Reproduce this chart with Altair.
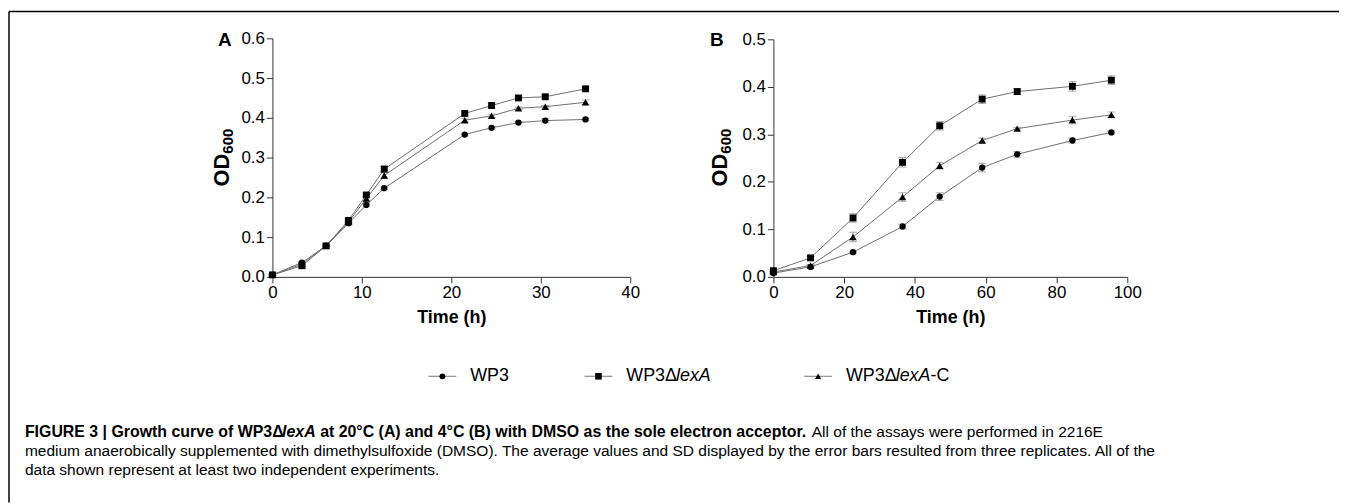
import altair as alt
import pandas as pd

FONT = "Liberation Sans"

strains = ["WP3", "WP3ΔlexA", "WP3ΔlexA-C"]

# Panel A (20 °C)
time_a = [0, 3.3, 6.0, 8.5, 10.5, 12.5, 21.5, 24.5, 27.5, 30.5, 35.0]
a_wp3 = [0.005, 0.036, 0.078, 0.135, 0.181, 0.223, 0.358, 0.375, 0.388, 0.393, 0.396]
a_lexA = [0.005, 0.028, 0.078, 0.142, 0.206, 0.271, 0.411, 0.431, 0.450, 0.453, 0.473]
a_lexAC = [0.005, 0.032, 0.078, 0.138, 0.197, 0.255, 0.394, 0.405, 0.424, 0.428, 0.439]
a_wp3_sd = [0.002, 0.003, 0.002, 0.003, 0.003, 0.003, 0.003, 0.003, 0.003, 0.005, 0.003]
a_lexA_sd = [0.002, 0.003, 0.002, 0.004, 0.005, 0.008, 0.004, 0.006, 0.004, 0.004, 0.004]
a_lexAC_sd = [0.002, 0.004, 0.002, 0.004, 0.006, 0.008, 0.005, 0.004, 0.003, 0.003, 0.006]

# Panel B (4 °C)
time_b = [0, 10.5, 22.5, 36.5, 47.0, 59.0, 68.9, 84.5, 95.5]
b_wp3 = [0.008, 0.021, 0.052, 0.106, 0.169, 0.230, 0.258, 0.287, 0.304]
b_lexA = [0.013, 0.040, 0.124, 0.241, 0.318, 0.374, 0.390, 0.401, 0.414]
b_lexAC = [0.010, 0.024, 0.084, 0.168, 0.234, 0.287, 0.312, 0.330, 0.341]
b_wp3_sd = [0.002, 0.002, 0.002, 0.005, 0.008, 0.009, 0.006, 0.005, 0.003]
b_lexA_sd = [0.002, 0.003, 0.009, 0.010, 0.009, 0.009, 0.006, 0.010, 0.009]
b_lexAC_sd = [0.002, 0.002, 0.010, 0.009, 0.007, 0.005, 0.002, 0.008, 0.006]

xticks_a = [0, 10, 20, 30, 40]
xticks_b = [0, 20, 40, 60, 80, 100]
yticks_a = [0.0, 0.1, 0.2, 0.3, 0.4, 0.5, 0.6]
yticks_b = [0.0, 0.1, 0.2, 0.3, 0.4, 0.5]

# ---------- text width helper (Helvetica/Arial metrics) ----------
REG = {' ': 278, '!': 278, '(': 333, ')': 333, ',': 278, '-': 333, '.': 278, ':': 278,
       '|': 260, '°': 400, 'Δ': 612}
for d in "0123456789":
    REG[d] = 556
REG.update(dict(A=667, B=667, C=722, D=722, E=667, F=611, G=778, H=722, I=278, J=500, K=667,
                L=556, M=833, N=722, O=778, P=667, Q=778, R=722, S=667, T=611, U=722, V=667,
                W=944, X=667, Y=667, Z=611, a=556, b=556, c=500, d=556, e=556, f=278, g=556,
                h=556, i=222, j=222, k=500, l=222, m=833, n=556, o=556, p=556, q=556, r=333,
                s=500, t=278, u=556, v=500, w=722, x=500, y=500, z=500))
BOLD = dict(REG)
BOLD.update({'|': 280})
BOLD.update(dict(A=722, B=722, L=611, a=556, b=611, c=556, d=611, f=333, g=611, h=611, i=278,
                 j=278, k=556, l=278, m=889, n=611, o=611, p=611, q=611, r=389, s=556, t=333,
                 u=611, v=556, w=778, x=556, y=556))


def tw(s, size, bold=False):
    tab = BOLD if bold else REG
    return sum(tab.get(c, 556) for c in s) * size / 1000.0


ONE = alt.Data(values=[{"k": 0}])


def label(text, x, y, size=16, weight="normal", style="normal", align="left",
          baseline="middle", angle=0, color="black"):
    return alt.Chart(ONE).mark_text(
        text=text, font=FONT, fontSize=size, fontWeight=weight, fontStyle=style,
        align=align, baseline=baseline, angle=angle, color=color
    ).encode(x=alt.value(x), y=alt.value(y))


def segments(parts, x0, y, size):
    """parts: list of (text, bold, italic, size_or_None) placed side by side."""
    layers = []
    x = x0
    for text, bold, italic, sz in parts:
        s = sz or size
        stripped = text.lstrip(" ")
        x += tw(text[: len(text) - len(stripped)], s, bold)
        layers.append(label(stripped, x, y, size=s, weight="bold" if bold else "normal",
                            style="italic" if italic else "normal"))
        x += tw(stripped, s, bold)
    return layers


# ---------- panels ----------
H = 496  # chart height (page minus margin)


def panel(times, series, sds, xdom, xticks, ydom, yticks, xrange, yrange):
    rows = []
    for s, vals, sd in zip(strains, series, sds):
        for t, v, e in zip(times, vals, sd):
            rows.append({"time": t, "od": v, "lo": v - e, "hi": v + e, "strain": s})
    df = pd.DataFrame(rows)
    base = alt.Chart(df)
    xaxis = alt.Axis(orient="bottom", offset=yrange[0] - H, values=xticks, format="d",
                     title="Time (h)", titleFont=FONT, titleFontSize=18, titleFontWeight="bold",
                     titleColor="black", titlePadding=8, labelFont=FONT, labelFontSize=17,
                     labelColor="black", labelPadding=2, tickSize=6, domainColor="#333",
                     tickColor="#333", grid=False, labelFlush=False)
    yaxis = alt.Axis(orient="left", offset=-xrange[0], values=yticks, format=".1f",
                     title=None, labelFont=FONT, labelFontSize=17, labelColor="black",
                     labelPadding=2, tickSize=6, domainColor="#333", tickColor="#333",
                     grid=False, labelFlush=False)
    xs = alt.Scale(domain=xdom, range=xrange, nice=False, zero=False)
    ys = alt.Scale(domain=ydom, range=yrange, nice=False, zero=False)

    def X():
        return alt.X("time:Q", scale=xs, axis=xaxis)

    def Y(f):
        return alt.Y(f + ":Q", scale=ys, axis=yaxis)

    shape = alt.Shape("strain:N", scale=alt.Scale(domain=strains,
                      range=["circle", "square", "triangle-up"]), legend=None)
    size = alt.Size("strain:N", scale=alt.Scale(domain=strains, range=[40, 56, 42]),
                    legend=None)
    line = base.mark_line(color="#6f6f6f", strokeWidth=1).encode(x=X(), y=Y("od"),
                                                                  detail="strain:N")
    rule = base.mark_rule(color="#888", strokeWidth=1).encode(x=X(), y=Y("lo"), y2="hi:Q")
    cap_lo = base.mark_tick(orient="horizontal", size=8, thickness=1, color="#888").encode(
        x=X(), y=Y("lo"))
    cap_hi = base.mark_tick(orient="horizontal", size=8, thickness=1, color="#888").encode(
        x=X(), y=Y("hi"))
    pts = base.mark_point(filled=True, opacity=1, color="black").encode(
        x=X(), y=Y("od"), shape=shape, size=size)
    return alt.layer(line, rule, cap_lo, cap_hi, pts)


# page coords minus 8px margin
pA = panel(time_a, [a_wp3, a_lexA, a_lexAC], [a_wp3_sd, a_lexA_sd, a_lexAC_sd],
           [0, 40], xticks_a, [0, 0.6], yticks_a, [266, 626], [269, 29])
pB = panel(time_b, [b_wp3, b_lexA, b_lexAC], [b_wp3_sd, b_lexA_sd, b_lexAC_sd],
           [0, 100], xticks_b, [0, 0.5], yticks_b, [770, 1126], [269, 30])

layers = [pA, pB]

# frame (left and top edges)
layers.append(alt.Chart(ONE).mark_rule(color="black", strokeWidth=1.5).encode(
    x=alt.value(1), y=alt.value(2), y2=alt.value(H)))
layers.append(alt.Chart(ONE).mark_rule(color="black", strokeWidth=1.5).encode(
    x=alt.value(1), x2=alt.value(1339), y=alt.value(2)))

# panel letters
layers.append(label("A", 218, 31, size=19, weight="bold", align="center"))
layers.append(label("B", 713, 31, size=19, weight="bold", align="center"))


# OD600 titles (rotated)
def od_title(xb, yc):
    w_od = tw("OD", 22, True)
    w_sub = tw("600", 15, True)
    total = w_od + w_sub
    y_start = yc + total / 2  # bottom end (text runs upward)
    return [
        label("OD", xb, y_start, size=22, weight="bold", align="left", baseline="alphabetic",
              angle=270),
        label("600", xb + 4, y_start - w_od, size=15, weight="bold", align="left",
              baseline="alphabetic", angle=270),
    ]


layers += od_title(222, 149)
layers += od_title(723, 149)

# legend
LEG_Y = 369
leg_items = [
    (437, "circle", 34, [("WP3", False, False, None)]),
    (594, "square", 44, [("WP3Δ", False, False, None), ("lexA", False, True, None)]),
    (815, "triangle-up", 38, [("WP3Δ", False, False, None),
                              ("lexA", False, True, None),
                              ("-C", False, False, None)]),
]
for cx, shp, sz, parts in leg_items:
    layers.append(alt.Chart(ONE).mark_rule(color="#777", strokeWidth=1).encode(
        x=alt.value(cx - 14), x2=alt.value(cx + 14), y=alt.value(LEG_Y)))
    layers.append(alt.Chart(ONE).mark_point(shape=shp, size=sz, filled=True, opacity=1,
                                            color="black").encode(
        x=alt.value(cx), y=alt.value(LEG_Y)))
    layers += segments(parts, cx + 28, LEG_Y, 18)

# caption
CAP = 15.6
BCAP = 16
CX = 17
line1 = [
    ("FIGURE 3 | Growth curve of WP3Δ", True, False, BCAP),
    ("lexA", True, True, BCAP),
    (" at 20°C (A) and 4°C (B) with DMSO as the sole electron acceptor.", True, False, BCAP),
    (" All of the assays were performed in 2216E", False, False, CAP),
]
line2 = [("medium anaerobically supplemented with dimethylsulfoxide (DMSO). The average values "
          "and SD displayed by the error bars resulted from three replicates. All of the",
          False, False, CAP)]
line3 = [("data shown represent at least two independent experiments.", False, False, CAP)]
layers += segments(line1, CX, 425, CAP)
layers += segments(line2, CX, 444, CAP)
layers += segments(line3, CX, 463, CAP)

chart = alt.layer(*layers).resolve_scale(x="independent", y="independent").properties(
    width=1339, height=H, padding=0, autosize=alt.AutoSizeParams(type="none")
).configure_view(stroke=None)

chart.save("out.html", embed_options={"renderer": "svg", "actions": False})
